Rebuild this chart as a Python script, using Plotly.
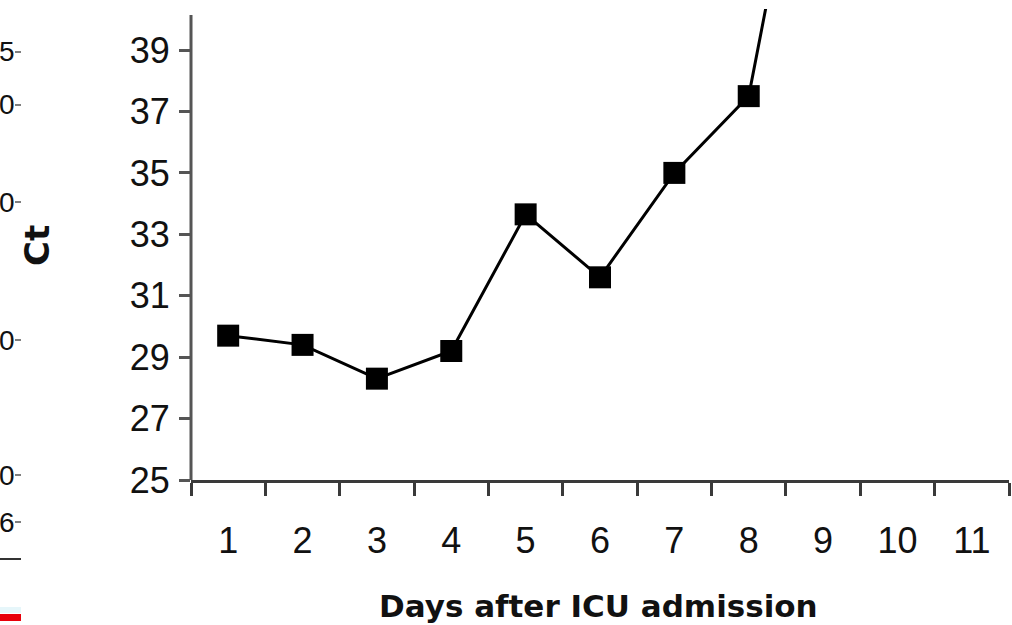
import plotly.graph_objects as go

# Ct values by day after ICU admission
days = [1, 2, 3, 4, 5, 6, 7, 8, 9]
ct_values = [29.7, 29.4, 28.3, 29.2, 33.65, 31.6, 35.0, 37.5, 50.0]

day_ticks = list(range(1, 12))
ct_ticks = [25, 27, 29, 31, 33, 35, 37, 39]

# partial tick labels of the neighbouring panel on the left edge
side_labels = ["5", "0", "0", "0", "0", "6"]
side_label_px = [52, 105, 202, 340, 475, 522]

W, H = 1012, 625
L, R, T, B = 191, 3, 9, 145
plot_w = W - L - R
plot_h = H - T - B

FONT = "Liberation Sans"
BOLD_FONT = "DejaVu Sans"
INK = "#111111"
AXIS = "#3a3a3a"


def px(c):
    # pixel column -> paper x
    return (c - L) / plot_w


def py(r):
    # pixel row -> paper y
    return (H - B - r) / plot_h


fig = go.Figure()
fig.add_trace(go.Scatter(
    x=days, y=ct_values, mode="lines+markers",
    line=dict(color="black", width=3),
    marker=dict(symbol="square", size=22, color="black"),
    showlegend=False, cliponaxis=True,
))

annotations = [
    dict(text="<b>Ct</b>", x=px(37), y=py(246), xref="paper", yref="paper",
         showarrow=False, textangle=-90, font=dict(family=BOLD_FONT, size=34, color=INK),
         xanchor="center", yanchor="middle"),
    dict(text="<b>Days after ICU admission</b>", x=px(598), y=py(606), xref="paper", yref="paper",
         showarrow=False, font=dict(family=BOLD_FONT, size=31, color=INK),
         xanchor="center", yanchor="middle"),
]

shapes = []
for lab, r in zip(side_labels, side_label_px):
    annotations.append(dict(
        text=lab, x=px(16.5), y=py(r), xref="paper", yref="paper",
        showarrow=False, font=dict(family=FONT, size=28, color=INK),
        xanchor="right", yanchor="middle"))
    shapes.append(dict(type="line", xref="paper", yref="paper",
                       x0=px(15), x1=px(21), y0=py(r), y1=py(r),
                       line=dict(color="#555", width=1.5)))

shapes.append(dict(type="line", xref="paper", yref="paper",
                   x0=px(0), x1=px(21), y0=py(559), y1=py(559),
                   line=dict(color="#333", width=2)))
shapes.append(dict(type="rect", xref="paper", yref="paper",
                   x0=px(0), x1=px(21), y0=py(613), y1=py(607),
                   line=dict(width=0), fillcolor="#e6f6fa"))
shapes.append(dict(type="rect", xref="paper", yref="paper",
                   x0=px(0), x1=px(21), y0=py(621), y1=py(614),
                   line=dict(width=0), fillcolor="#e8000b"))
# vertical axis line (stops a little below the top of the plotting area)
shapes.append(dict(type="line", xref="paper", yref="paper",
                   x0=0, x1=0, y0=0, y1=py(15),
                   line=dict(color="#555", width=3)))

fig.update_layout(
    width=W, height=H,
    margin=dict(l=L, r=R, t=T, b=B, pad=0),
    paper_bgcolor="white", plot_bgcolor="white",
    annotations=annotations, shapes=shapes,
    xaxis=dict(
        range=[0.5, 11.5], tickmode="array", tickvals=day_ticks,
        ticktext=[str(d) for d in day_ticks],
        ticks="", ticklabelstandoff=27,
        tickfont=dict(family=FONT, size=36, color=INK),
        showline=True, linecolor=AXIS, linewidth=3,
        showgrid=False, zeroline=False,
        minor=dict(ticks="outside", tick0=0.5, dtick=1, ticklen=13,
                   tickwidth=3, tickcolor=AXIS, showgrid=False),
    ),
    yaxis=dict(
        range=[25, 25 + plot_h / 30.71], tickmode="array", tickvals=ct_ticks,
        ticks="outside", ticklen=11, tickwidth=3, tickcolor="#555",
        ticklabelstandoff=2,
        tickfont=dict(family=FONT, size=36, color=INK),
        showline=False,
        showgrid=False, zeroline=False,
    ),
)

fig.write_html("out.html")
